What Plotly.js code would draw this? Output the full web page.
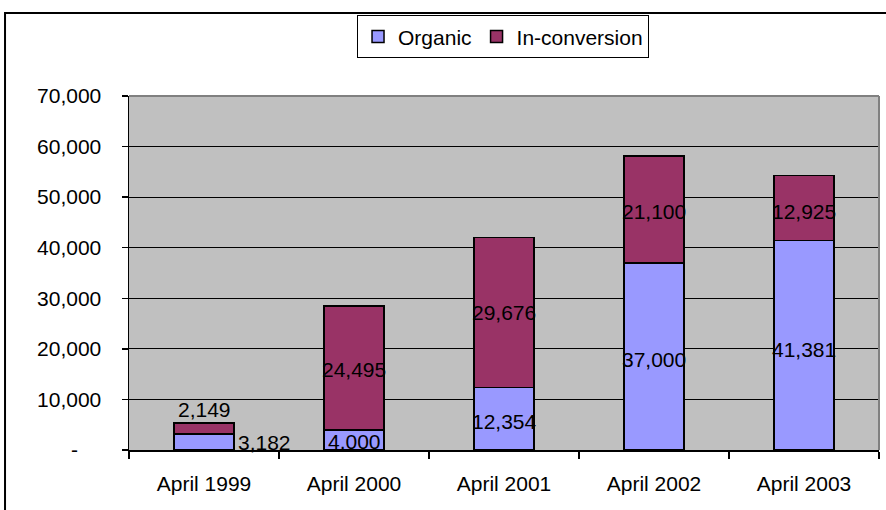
<!DOCTYPE html>
<html>
<head>
<meta charset="utf-8">
<script src="https://cdn.plot.ly/plotly-3.0.1.min.js"></script>
<style>
html,body{margin:0;padding:0;background:#fff;}
#chart{width:886px;height:510px;}
</style>
</head>
<body>
<div id="chart"></div>
<script>
// ---- data ----
var categories = ['April 1999', 'April 2000', 'April 2001', 'April 2002', 'April 2003'];
var organic = [3182, 4000, 12354, 37000, 41381];
var inConversion = [2149, 24495, 29676, 21100, 12925];
var yTickVals = [0, 10000, 20000, 30000, 40000, 50000, 60000, 70000];
var yTickText = ['-\u00a0\u00a0\u00a0\u00a0', '10,000', '20,000', '30,000', '40,000', '50,000', '60,000', '70,000'];

// ---- styling ----
var FONT = 'Liberation Sans, Arial, sans-serif';
var FS = 21;
var organicColor = '#9999FF';
var convColor = '#993366';
// label offsets (pixels) to mimic the original label placement
var orgShift = [[60, -1], [0, -2], [0, -3], [0, -3], [0, -4]];
var convShift = [[0, 19], [0, -2], [0, 0], [0, -2], [0, -3]];

function fmt(v) { return v.toLocaleString('en-US'); }

var traces = [
  {
    type: 'bar', name: 'Organic', x: categories, y: organic,
    marker: {color: organicColor, line: {color: '#000', width: 1.5}},
    hoverinfo: 'none'
  },
  {
    type: 'bar', name: 'In-conversion', x: categories, y: inConversion,
    marker: {color: convColor, line: {color: '#000', width: 1.5}},
    hoverinfo: 'none'
  }
];

var annotations = [];
for (var i = 0; i < categories.length; i++) {
  annotations.push({
    x: categories[i], y: organic[i] / 2, xref: 'x', yref: 'y',
    text: fmt(organic[i]), showarrow: false,
    xshift: orgShift[i][0], yshift: orgShift[i][1],
    font: {family: FONT, size: FS, color: '#000'}
  });
  annotations.push({
    x: categories[i], y: organic[i] + inConversion[i] / 2, xref: 'x', yref: 'y',
    text: fmt(inConversion[i]), showarrow: false,
    xshift: convShift[i][0], yshift: convShift[i][1],
    font: {family: FONT, size: FS, color: '#000'}
  });
}

var layout = {
  width: 886, height: 510,
  margin: {l: 129, r: 7, t: 96, b: 60, pad: 0},
  paper_bgcolor: '#FFFFFF',
  plot_bgcolor: '#C0C0C0',
  barmode: 'stack',
  bargap: 0.6,
  font: {family: FONT, size: FS, color: '#000'},
  showlegend: true,
  legend: {
    orientation: 'h', x: 0.4987, xanchor: 'center', y: 1.228, yanchor: 'top',
    bgcolor: '#FFFFFF', bordercolor: '#000', borderwidth: 1,
    font: {family: FONT, size: FS, color: '#000'},
    itemwidth: 30, traceorder: 'normal'
  },
  xaxis: {
    type: 'category',
    showline: true, linecolor: '#000', linewidth: 1.5,
    ticks: 'outside', tickson: 'boundaries', ticklen: 7, tickcolor: '#000', tickwidth: 1.5,
    tickfont: {family: FONT, size: FS, color: '#000'},
    ticklabelstandoff: 14,
    showgrid: false, zeroline: false, fixedrange: true
  },
  yaxis: {
    range: [0, 70000],
    tickvals: yTickVals, ticktext: yTickText,
    showline: true, linecolor: '#000', linewidth: 1.5,
    ticks: 'outside', ticklen: 6, tickcolor: '#000', tickwidth: 1.5,
    tickfont: {family: FONT, size: FS, color: '#000'},
    ticklabelstandoff: 16,
    showgrid: true, gridcolor: '#000', gridwidth: 1,
    zeroline: false, fixedrange: true
  },
  annotations: annotations,
  shapes: [
    // plot area border (top and right) in grey
    {type: 'line', xref: 'paper', yref: 'paper', x0: 0, x1: 1, y0: 1, y1: 1,
     line: {color: '#808080', width: 2}, layer: 'above'},
    {type: 'line', xref: 'paper', yref: 'paper', x0: 1, x1: 1, y0: 0, y1: 1,
     line: {color: '#808080', width: 2}, layer: 'above'},
    // outer chart frame
    {type: 'rect', xref: 'paper', yref: 'paper', x0: -0.1653, x1: 1.2, y0: -0.5, y1: 1.2345,
     line: {color: '#000', width: 2}, fillcolor: 'rgba(0,0,0,0)', layer: 'above'}
  ]
};

Plotly.newPlot('chart', traces, layout, {staticPlot: true, displayModeBar: false});
</script>
</body>
</html>
